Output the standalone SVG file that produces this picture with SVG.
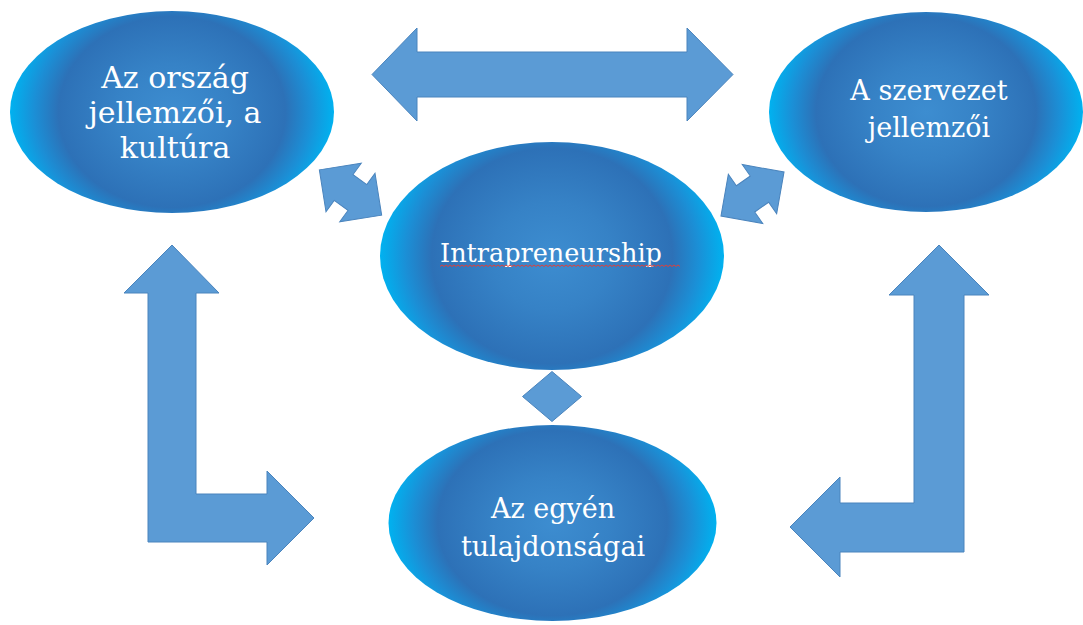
<svg xmlns="http://www.w3.org/2000/svg" width="1083" height="625" viewBox="0 0 1083 625">
  <defs>
    <radialGradient id="blob" cx="0.5" cy="0.5" r="0.5" gradientTransform="translate(0.5 0.5) scale(1 1.35) translate(-0.5 -0.5)">
      <stop offset="0" stop-color="#3d8dd0"/>
      <stop offset="0.35" stop-color="#3682c6"/>
      <stop offset="0.7" stop-color="#2d71b7"/>
      <stop offset="0.85" stop-color="#1b8fd6"/>
      <stop offset="1" stop-color="#00b2f0"/>
    </radialGradient>
    <style>
      .node ellipse { fill: url(#blob); }
      .node text { fill: #ffffff; font-family: "DejaVu Serif", "Liberation Serif", serif; font-size: 27px; text-anchor: middle; }
      .node text.big { font-size: 30px; }
      .node text.mid { font-size: 25.5px; }
      .arrow { fill: #5b9bd5; stroke: #4a84bd; stroke-width: 1; stroke-linejoin: miter; }
    </style>
  </defs>
  <rect width="1083" height="625" fill="#ffffff"/>

  <g id="connectors">
    <polygon class="arrow" points="372,74.5 417,28 417,52 687,52 687,28 733,74.5 687,121 687,97 417,97 417,121"/>
    <polygon class="arrow" transform="translate(350.5,192.5) rotate(36)" points="-38.5,0 -8.5,-30 -8.5,-16 8.5,-16 8.5,-30 38.5,0 8.5,30 8.5,16 -8.5,16 -8.5,30"/>
    <polygon class="arrow" transform="translate(752.5,194) rotate(-35)" points="-38.5,0 -8.5,-30 -8.5,-16 8.5,-16 8.5,-30 38.5,0 8.5,30 8.5,16 -8.5,16 -8.5,30"/>
    <polygon class="arrow" points="552,371.5 581.5,396.5 552,421.5 522.5,396.5"/>
    <polygon class="arrow" points="172,245 219,293 196,293 196,494 267,494 267,471 314,518 267,565 267,542 148,542 148,293 124,293"/>
    <polygon class="arrow" points="939,245 989,295 964,295 964,552 840,552 840,577 790,527 840,477 840,503 914,503 914,295 889,295"/>
  </g>

  <g id="node-orszag" class="node">
    <ellipse cx="172" cy="112" rx="162" ry="101"/>
    <text class="big" x="175" y="88">Az ország</text>
    <text class="big" x="175" y="123">jellemzői, a</text>
    <text class="big" x="175" y="158">kultúra</text>
  </g>

  <g id="node-szervezet" class="node">
    <ellipse cx="926" cy="112" rx="157" ry="100"/>
    <text x="929" y="100">A szervezet</text>
    <text x="929" y="137">jellemzői</text>
  </g>

  <g id="node-intrapreneurship" class="node">
    <ellipse cx="552" cy="256" rx="172" ry="114"/>
    <text class="mid" x="551" y="262">Intrapreneurship</text>
    <path d="M440,266.5 l2,-1.5 l2,1.5 l2,-1.5 l2,1.5 l2,-1.5 l2,1.5 l2,-1.5 l2,1.5 l2,-1.5 l2,1.5 l2,-1.5 l2,1.5 l2,-1.5 l2,1.5 l2,-1.5 l2,1.5 l2,-1.5 l2,1.5 l2,-1.5 l2,1.5 l2,-1.5 l2,1.5 l2,-1.5 l2,1.5 l2,-1.5 l2,1.5 l2,-1.5 l2,1.5 l2,-1.5 l2,1.5 l2,-1.5 l2,1.5 l2,-1.5 l2,1.5 l2,-1.5 l2,1.5 l2,-1.5 l2,1.5 l2,-1.5 l2,1.5 l2,-1.5 l2,1.5 l2,-1.5 l2,1.5 l2,-1.5 l2,1.5 l2,-1.5 l2,1.5 l2,-1.5 l2,1.5 l2,-1.5 l2,1.5 l2,-1.5 l2,1.5 l2,-1.5 l2,1.5 l2,-1.5 l2,1.5 l2,-1.5 l2,1.5 l2,-1.5 l2,1.5 l2,-1.5 l2,1.5 l2,-1.5 l2,1.5 l2,-1.5 l2,1.5 l2,-1.5 l2,1.5 l2,-1.5 l2,1.5 l2,-1.5 l2,1.5 l2,-1.5 l2,1.5 l2,-1.5 l2,1.5 l2,-1.5 l2,1.5 l2,-1.5 l2,1.5 l2,-1.5 l2,1.5 l2,-1.5 l2,1.5 l2,-1.5 l2,1.5 l2,-1.5 l2,1.5 l2,-1.5 l2,1.5 l2,-1.5 l2,1.5 l2,-1.5 l2,1.5 l2,-1.5 l2,1.5 l2,-1.5 l2,1.5 l2,-1.5 l2,1.5 l2,-1.5 l2,1.5 l2,-1.5 l2,1.5 l2,-1.5 l2,1.5 l2,-1.5 l2,1.5 l2,-1.5 l2,1.5 l2,-1.5 l2,1.5 l2,-1.5 l2,1.5 l2,-1.5 l2,1.5 l2,-1.5 l2,1.5" fill="none" stroke="#e0403a" stroke-width="1"/>
  </g>

  <g id="node-egyen" class="node">
    <ellipse cx="552.5" cy="523" rx="164" ry="98"/>
    <text x="553" y="518">Az egyén</text>
    <text x="553" y="556">tulajdonságai</text>
  </g>
</svg>
